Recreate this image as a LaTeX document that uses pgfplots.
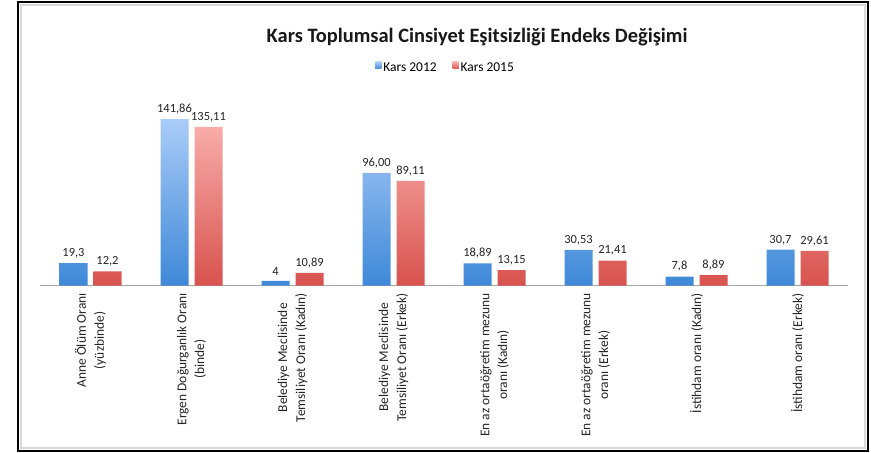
\documentclass[border=0pt]{standalone}
\usepackage{fontspec}
\setmainfont{Carlito}
\usepackage{pgfplots}
\usepackage{pgfplotstable}
\pgfplotsset{compat=1.18}

\definecolor{blueTop}{RGB}{170,204,248}
\definecolor{blueBot}{RGB}{62,136,216}
\definecolor{blueMid}{RGB}{80,148,222}
\definecolor{redTop}{RGB}{248,172,168}
\definecolor{redBot}{RGB}{216,82,78}
\definecolor{redMid}{RGB}{226,96,92}

% values and their printed labels (comma decimals)
\pgfplotstableread{
x a al b bl
0 19.3 19,3 12.2 12,2
1 141.86 141,86 135.11 135,11
2 4 4 10.89 10,89
3 96.00 96,00 89.11 89,11
4 18.89 18,89 13.15 13,15
5 30.53 30,53 21.41 21,41
6 7.8 7,8 8.89 8,89
7 30.7 30,7 29.61 29,61
}\datatable

\begin{document}
\begin{tikzpicture}[x=1bp,y=1bp]
\useasboundingbox (0,0) rectangle (871,453);
\fill[white] (0,0) rectangle (871,453);
\draw[black!15, line width=1.2bp] (21,5) rectangle (865,448);
\draw[black, line width=2.4bp] (18,2) rectangle (868,451);
\begin{axis}[
  at={(40bp,167.3bp)}, anchor=south west,
  scale only axis, width=808bp, height=188bp,
  ymin=0, ymax=160, xmin=-0.5, xmax=7.5,
  ybar=6bp, bar width=28bp,
  axis y line=none, axis x line=bottom,
  x axis line style={-, draw=black!35},
  xtick={0,...,7},
  xticklabels={{Anne Ölüm Oranı\\(yüzbinde)},
    {Ergen Doğurganlık Oranı\\(binde)},
    {Belediye Meclisinde\\Temsiliyet Oranı (Kadın)},
    {Belediye Meclisinde\\Temsiliyet Oranı (Erkek)},
    {En az ortaöğretim mezunu\\oranı (Kadın)},
    {En az ortaöğretim mezunu\\oranı (Erkek)},
    {İstihdam oranı (Kadın)},
    {İstihdam oranı (Erkek)}},
  major tick length=0,
  xticklabel style={rotate=90, anchor=east, align=center, xshift=-4bp,
    font=\fontsize{13.5}{18}\selectfont, text=black!85},
  nodes near coords, point meta=explicit symbolic,
  nodes near coords style={font=\fontsize{12.5}{14}\selectfont, text=black!85, yshift=1.5bp},
  title={Kars Toplumsal Cinsiyet Eşitsizliği Endeks Değişimi},
  title style={at={(0.541,1.29)}, anchor=center,
    font=\bfseries\fontsize{20.5}{24}\selectfont, text=black!90},
  legend style={at={(0.502,1.158)}, anchor=center, draw=none, fill=none,
    font=\fontsize{13.5}{16}\selectfont, legend columns=2,
    /tikz/every even column/.append style={column sep=14bp}},
  clip=false,
]
\addplot[draw=none, top color=blueTop, bottom color=blueBot,
  legend image code/.code={\fill[blueMid] (0bp,-1bp) rectangle (6bp,6bp);}]
  table[x=x, y=a, meta=al]{\datatable};
\addlegendentry{Kars 2012}
\addplot[draw=none, top color=redTop, bottom color=redBot,
  legend image code/.code={\fill[redMid] (0bp,-1bp) rectangle (6bp,6bp);}]
  table[x=x, y=b, meta=bl]{\datatable};
\addlegendentry{Kars 2015}
\end{axis}
\end{tikzpicture}
\end{document}
